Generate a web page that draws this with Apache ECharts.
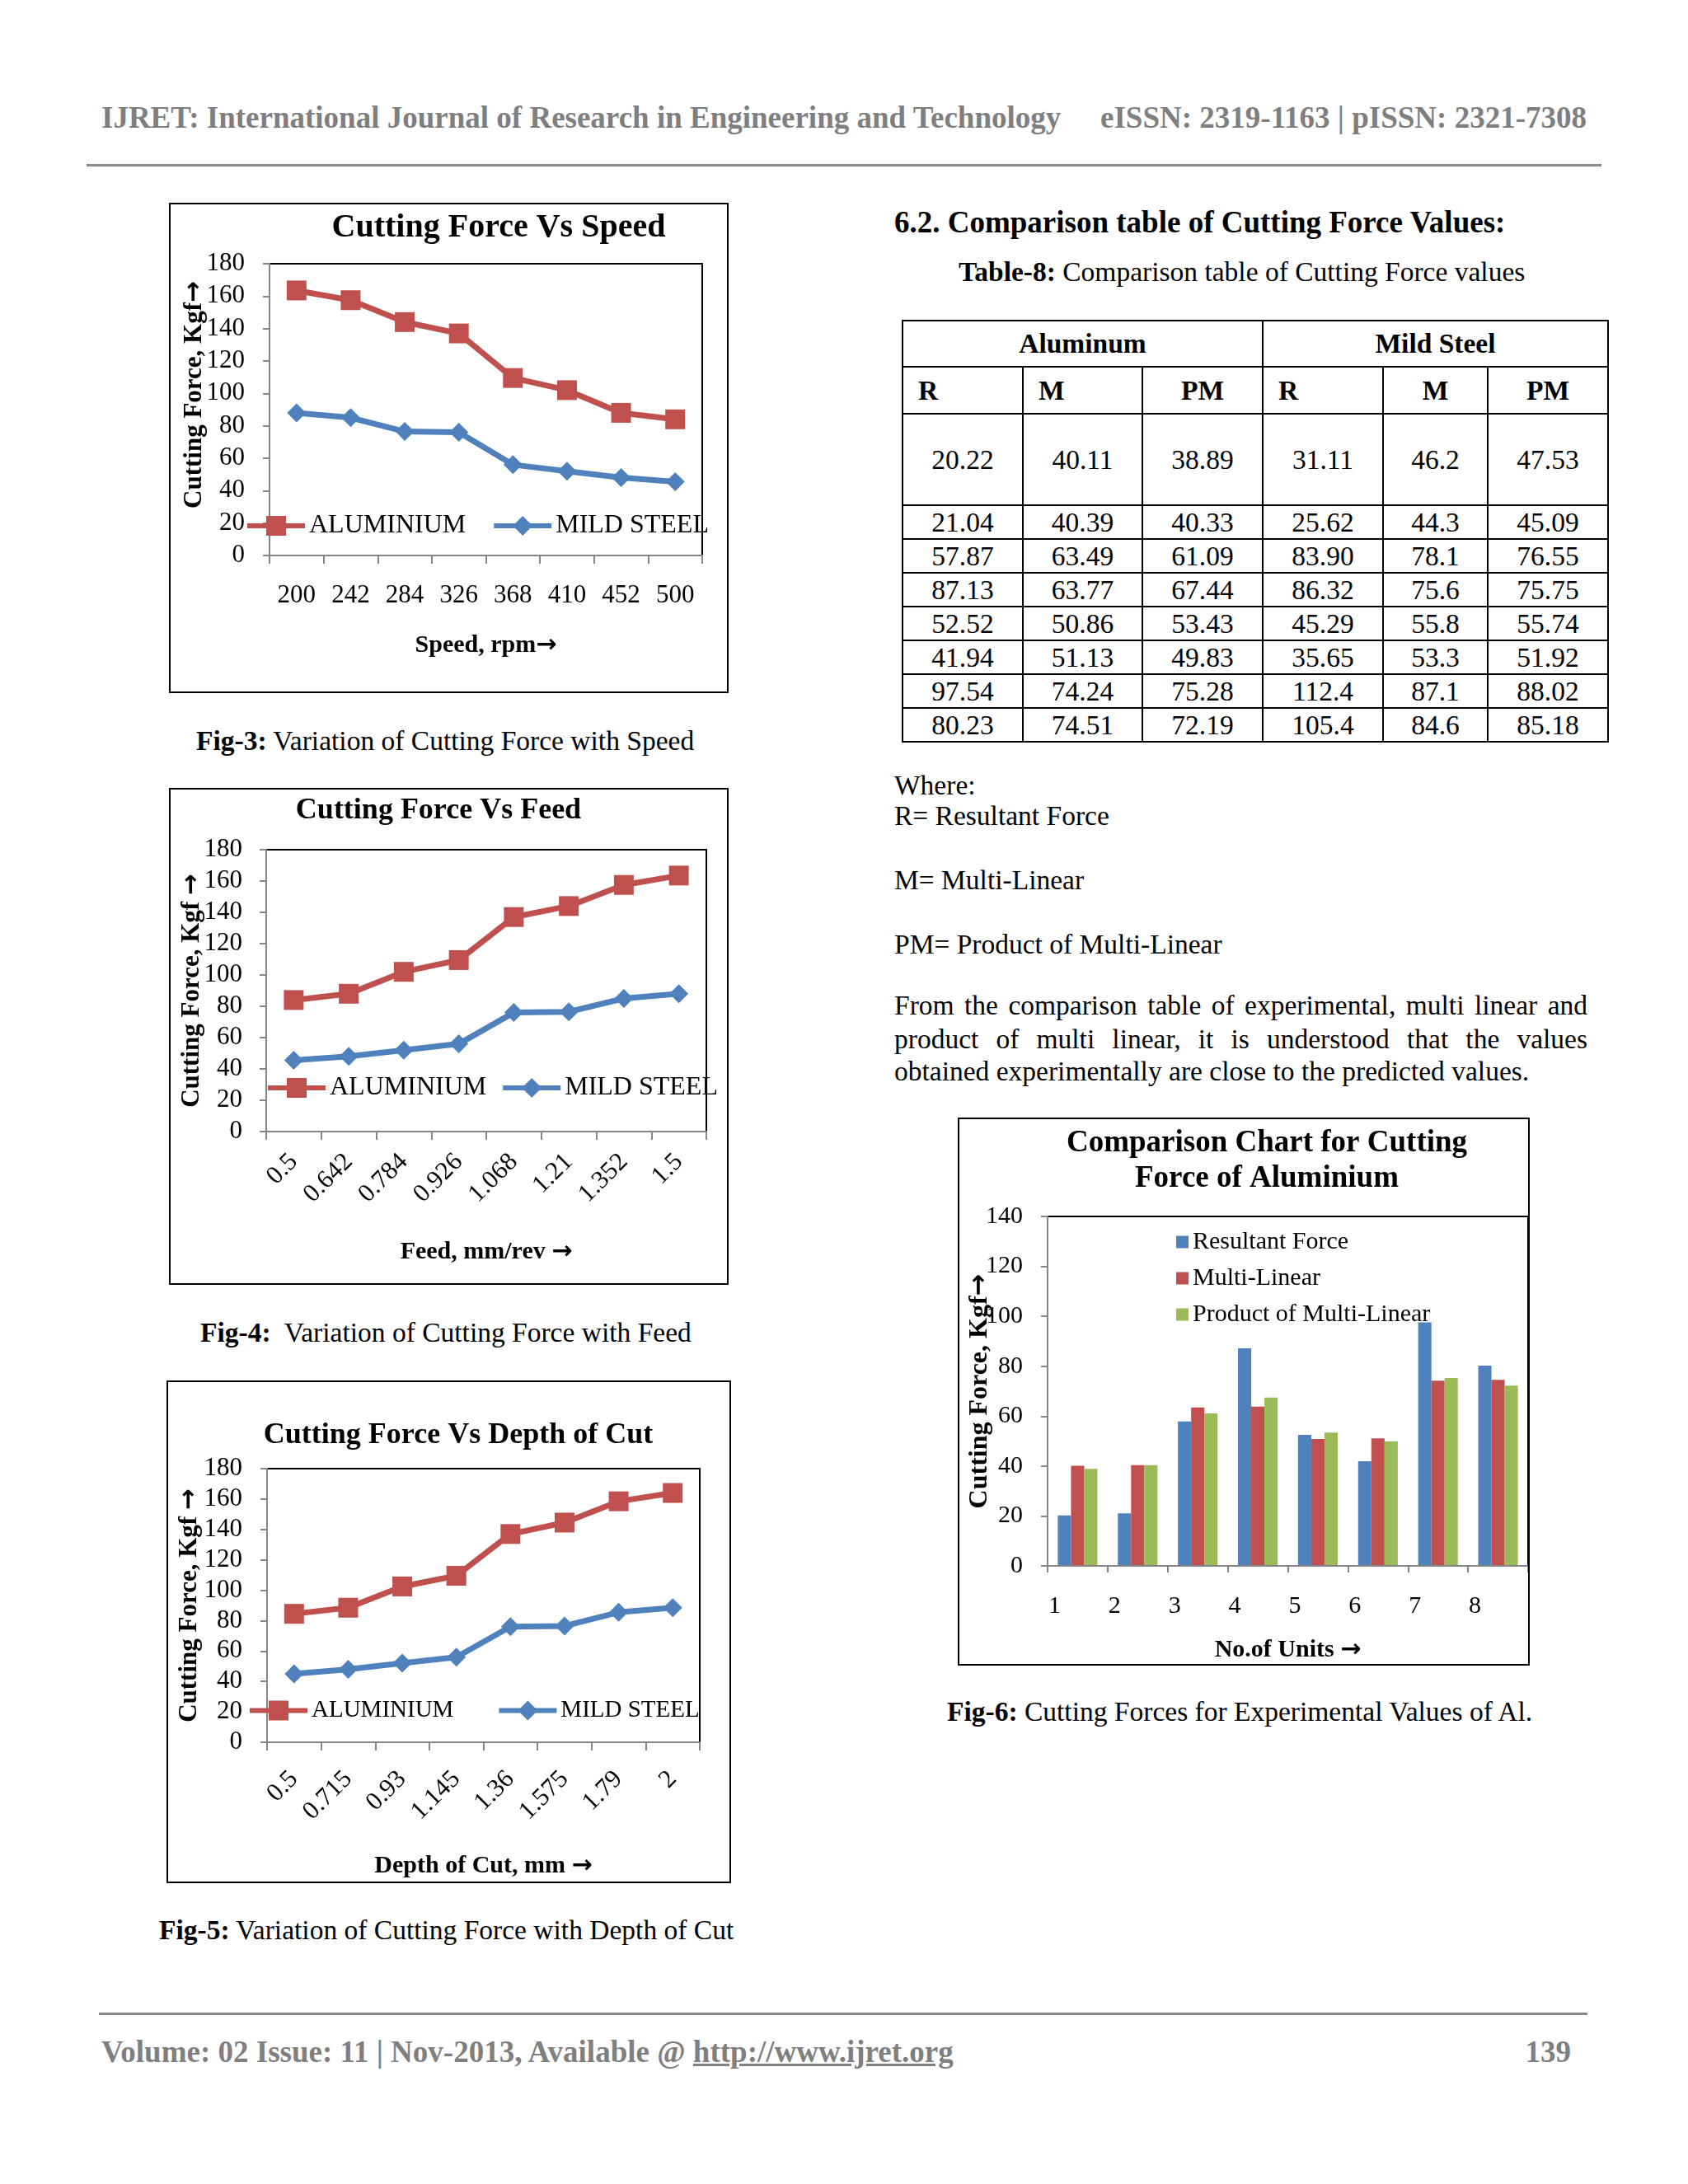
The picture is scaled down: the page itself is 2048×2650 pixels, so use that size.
<!DOCTYPE html>
<html>
<head>
<meta charset="utf-8">
<title>Cutting Force</title>
<script src="https://cdn.jsdelivr.net/npm/echarts@6.0.0/dist/echarts.min.js"></script>
<style>
  html, body { margin: 0; padding: 0; background: #fff; }
  #page { position: relative; width: 2048px; height: 2650px; overflow: hidden;
          font-family: 'Liberation Serif', 'Times New Roman', serif; color: #000; }
  .txt { position: absolute; white-space: nowrap; line-height: 1; }
  .gray { color: #7f7f7f; font-weight: bold; font-size: 37px; }
  .rule { position: absolute; background: #8a8a8a; height: 3px; }
  .frame { position: absolute; border: 2px solid #000; box-sizing: border-box; }
  .frame > div { position: absolute; left: 0; top: 0; right: 0; bottom: 0; }
  .body { font-size: 33.5px; }
  #tbl { position: absolute; left: 1094px; top: 388px; width: 856px; border-collapse: collapse;
         table-layout: fixed; font-size: 33.5px; }
  #tbl td { border: 2px solid #000; text-align: center; padding: 0; line-height: 1; }
  .just { position: absolute; left: 1085px; width: 841px; font-size: 33.5px; line-height: 1;
          text-align: justify; text-align-last: justify; }
</style>
</head>
<body>
<div id="page">
  <!-- header -->
  <div class="txt gray" style="left:123px;top:124px">IJRET: International Journal of Research in Engineering and Technology</div>
  <div class="txt gray" style="right:123px;top:124px">eISSN: 2319-1163 | pISSN: 2321-7308</div>
  <div class="rule" style="left:105px;top:199px;width:1838px"></div>

  <!-- left column charts -->
  <div class="frame" style="left:205px;top:246px;width:679px;height:595px"><div id="c1"></div></div>
  <div class="txt body" style="left:238px;top:882px"><b>Fig-3:</b> Variation of Cutting Force with Speed</div>

  <div class="frame" style="left:205px;top:956px;width:679px;height:603px"><div id="c2"></div></div>
  <div class="txt body" style="left:243px;top:1600px"><b>Fig-4:</b>&nbsp; Variation of Cutting Force with Feed</div>

  <div class="frame" style="left:202px;top:1675px;width:685px;height:610px"><div id="c3"></div></div>
  <div class="txt body" style="left:193px;top:2325px"><b>Fig-5:</b> Variation of Cutting Force with Depth of Cut</div>

  <!-- right column -->
  <div class="txt" style="left:1085px;top:251px;font-size:37px;font-weight:bold">6.2. Comparison table of Cutting Force Values:</div>
  <div class="txt body" style="left:1163px;top:313px"><b>Table-8:</b> Comparison table of Cutting Force values</div>
  <table id="tbl"></table>

  <div class="txt body" style="left:1085px;top:936px">Where:</div>
  <div class="txt body" style="left:1085px;top:973px">R= Resultant Force</div>
  <div class="txt body" style="left:1085px;top:1051px">M= Multi-Linear</div>
  <div class="txt body" style="left:1085px;top:1129px">PM= Product of Multi-Linear</div>
  <div class="just" style="top:1203px">From the comparison table of experimental, multi linear and</div>
  <div class="just" style="top:1244px">product of multi linear, it is understood that the values</div>
  <div class="txt body" style="left:1085px;top:1283px">obtained experimentally are close to the predicted values.</div>

  <div class="frame" style="left:1162px;top:1356px;width:694px;height:665px"><div id="c4"></div></div>
  <div class="txt body" style="left:1149px;top:2060px"><b>Fig-6:</b> Cutting Forces for Experimental Values of Al.</div>

  <!-- footer -->
  <div class="rule" style="left:120px;top:2442px;width:1806px"></div>
  <div class="txt gray" style="left:123px;top:2471px">Volume: 02 Issue: 11 | Nov-2013, Available @ <u>http://www.ijret.org</u></div>
  <div class="txt gray" style="right:142px;top:2471px">139</div>
</div>

<script>
// 数据
const speedLabels = ['200', '242', '284', '326', '368', '410', '452', '500']
const speedAl = [163.5, 157.5, 144, 137, 109.5, 102, 88, 84]
const speedMs = [88, 85, 76.5, 76, 56, 52, 48, 45.5]

const feedLabels = ['0.5', '0.642', '0.784', '0.926', '1.068', '1.21', '1.352', '1.5']
const feedAl = [84, 88, 102, 109.5, 137, 144, 157.5, 163.5]
const feedMs = [45.5, 48, 52, 56, 76, 76.5, 85, 88]

const depthLabels = ['0.5', '0.715', '0.93', '1.145', '1.36', '1.575', '1.79', '2']
const depthAl = [84.5, 88.5, 102.5, 109.5, 137, 144.5, 158.5, 164]
const depthMs = [45, 48, 52, 56, 76, 76.5, 85.5, 88.5]

const unitLabels = ['1', '2', '3', '4', '5', '6', '7', '8']
const alR = ['20.22', '21.04', '57.87', '87.13', '52.52', '41.94', '97.54', '80.23']
const alM = ['40.11', '40.39', '63.49', '63.77', '50.86', '51.13', '74.24', '74.51']
const alPM = ['38.89', '40.33', '61.09', '67.44', '53.43', '49.83', '75.28', '72.19']
const msR = ['31.11', '25.62', '83.90', '86.32', '45.29', '35.65', '112.4', '105.4']
const msM = ['46.2', '44.3', '78.1', '75.6', '55.8', '53.3', '87.1', '84.6']
const msPM = ['47.53', '45.09', '76.55', '75.75', '55.74', '51.92', '88.02', '85.18']

const forceMax = 180
const forceStep = 20
const barMax = 140

const SERIF = "'Liberation Serif', 'Times New Roman', serif"
const RED = '#C0504D'
const BLUE = '#4F81BD'
const GREEN = '#9BBB59'
const AXIS = '#868686'

// 表格
const colW = [146, 145, 146, 146, 127, 146]
let html = '<colgroup>' + colW.map(w => `<col style="width:${w}px">`).join('') + '</colgroup>'
html += '<tr style="height:56px"><td colspan="3"><b>Aluminum</b></td><td colspan="3"><b>Mild Steel</b></td></tr>'
html += '<tr style="height:57px">' +
  '<td style="text-align:left;padding-left:18px"><b>R</b></td>' +
  '<td style="text-align:left;padding-left:18px"><b>M</b></td>' +
  '<td><b>PM</b></td>' +
  '<td style="text-align:left;padding-left:18px"><b>R</b></td>' +
  '<td><b>M</b></td><td><b>PM</b></td></tr>'
alR.forEach((v, i) => {
  const h = i === 0 ? 111 : 41
  html += `<tr style="height:${h}px"><td>${v}</td><td>${alM[i]}</td><td>${alPM[i]}</td>` +
    `<td>${msR[i]}</td><td>${msM[i]}</td><td>${msPM[i]}</td></tr>`
})
document.getElementById('tbl').innerHTML = html

const txt = (size, bold) => ({
  fontFamily: SERIF, fontSize: size, color: '#000', fontWeight: bold ? 'bold' : 'normal'
})
// 轴名称，箭头用 DejaVu 字体显示得更大
const nameStyle = (size, padding) => Object.assign(txt(size, true), {
  padding: padding || 0,
  rich: { a: { fontFamily: 'DejaVu Sans', fontSize: size, fontWeight: 'bold', color: '#000' } }
})

// 折线图
function lineChart (id, o) {
  const chart = echarts.init(document.getElementById(id))
  chart.setOption({
    animation: false,
    graphic: [{
      type: 'text', x: o.titleX, y: o.titleY,
      style: {
        text: o.title, fontFamily: SERIF, fontSize: o.titleSize, fontWeight: 'bold',
        fill: '#000', align: 'center', verticalAlign: 'middle'
      }
    }],
    grid: Object.assign({
      show: true, borderColor: '#000', borderWidth: 2, outerBoundsMode: 'none'
    }, o.grid),
    legend: {
      data: ['ALUMINIUM', 'MILD STEEL'], left: o.legendLeft, top: o.legendTop, width: 640,
      padding: 0, itemWidth: 70, itemHeight: 30, itemGap: o.legendGap, selectedMode: false,
      lineStyle: { width: 6 },
      textStyle: txt(o.legendSize || 32)
    },
    xAxis: {
      type: 'category', data: o.labels, z: 3,
      axisLine: { lineStyle: { color: AXIS, width: 2 } },
      axisTick: { show: true, length: 10, interval: 0, lineStyle: { color: AXIS, width: 2 } },
      axisLabel: Object.assign({ interval: 0, rotate: o.rotate, margin: o.labelMargin }, txt(31)),
      name: o.xName, nameLocation: 'middle', nameGap: o.xNameGap, nameMoveOverlap: false,
      nameTextStyle: nameStyle(30)
    },
    yAxis: {
      type: 'value', min: 0, max: forceMax, interval: forceStep, z: 3,
      axisLine: { show: true, lineStyle: { color: AXIS, width: 2 } },
      axisTick: { show: true, length: 8, lineStyle: { color: AXIS, width: 2 } },
      splitLine: { show: false },
      axisLabel: Object.assign({ margin: o.yLabelMargin }, txt(31)),
      name: o.yName, nameLocation: 'middle', nameGap: o.yNameGap, nameMoveOverlap: false,
      nameTextStyle: nameStyle(31, o.yNamePad)
    },
    series: [
      {
        name: 'ALUMINIUM', type: 'line', data: o.al, symbol: 'rect', symbolSize: 24,
        lineStyle: { color: RED, width: 7 }, itemStyle: { color: RED }
      },
      {
        name: 'MILD STEEL', type: 'line', data: o.ms, symbol: 'diamond', symbolSize: 23,
        lineStyle: { color: BLUE, width: 7 }, itemStyle: { color: BLUE }
      }
    ]
  })
  return chart
}

lineChart('c1', {
  title: 'Cutting Force Vs Speed', titleX: 398, titleY: 29, titleSize: 40,
  grid: { left: 120, right: 30, top: 72, bottom: 165 },
  labels: speedLabels, al: speedAl, ms: speedMs,
  rotate: 0, labelMargin: 33,
  xName: 'Speed, rpm{a|→}', xNameGap: 94,
  yName: 'Cutting Force, Kgf{a|→}', yNameGap: 76, yLabelMargin: 30, yNamePad: [0, 0, 0, 36],
  legendLeft: 90, legendTop: 374, legendGap: 31
})

lineChart('c2', {
  title: 'Cutting Force Vs Feed', titleX: 325, titleY: 26, titleSize: 36,
  grid: { left: 116, right: 25, top: 73, bottom: 184 },
  labels: feedLabels, al: feedAl, ms: feedMs,
  rotate: 45, labelMargin: 32,
  xName: 'Feed, mm/rev {a|→}', xNameGap: 131,
  yName: 'Cutting Force, Kgf {a|→}', yNameGap: 75, yLabelMargin: 29,
  legendLeft: 115, legendTop: 346, legendGap: 17
})

lineChart('c3', {
  title: 'Cutting Force Vs Depth of Cut', titleX: 352, titleY: 65, titleSize: 36,
  grid: { left: 120, right: 36, top: 105, bottom: 169 },
  labels: depthLabels, al: depthAl, ms: depthMs,
  rotate: 45, labelMargin: 40,
  xName: 'Depth of Cut, mm {a|→}', xNameGap: 135,
  yName: 'Cutting Force, Kgf {a|→}', yNameGap: 79, yLabelMargin: 30,
  legendLeft: 96, legendTop: 384, legendGap: 52, legendSize: 29
})

// 柱状图
const bar = echarts.init(document.getElementById('c4'))
bar.setOption({
  animation: false,
  graphic: [{
    type: 'text', x: 373, y: 51,
    style: {
      text: 'Comparison Chart for Cutting\nForce of Aluminium', fontFamily: SERIF, fontSize: 37,
      fontWeight: 'bold', lineHeight: 43, fill: '#000', align: 'center', verticalAlign: 'middle'
    }
  }],
  grid: { left: 107, right: 0, top: 118, bottom: 119, show: true, borderColor: '#000', borderWidth: 2, outerBoundsMode: 'none' },
  legend: {
    orient: 'vertical', left: 263, top: 134, padding: 0, itemWidth: 15, itemHeight: 15, itemGap: 14,
    icon: 'rect', selectedMode: false, textStyle: txt(30)
  },
  xAxis: {
    type: 'category', data: unitLabels, z: 3,
    axisLine: { lineStyle: { color: AXIS, width: 2 } },
    axisTick: { show: true, length: 8, interval: 0, lineStyle: { color: AXIS, width: 2 } },
    axisLabel: Object.assign({ interval: 0, margin: 34, padding: [0, 56, 0, 0] }, txt(30)),
    name: 'No.of Units {a|→}', nameLocation: 'middle', nameGap: 87, nameMoveOverlap: false,
    nameTextStyle: nameStyle(30)
  },
  yAxis: {
    type: 'value', min: 0, max: barMax, interval: forceStep, z: 3,
    axisLine: { show: true, lineStyle: { color: AXIS, width: 2 } },
    axisTick: { show: true, length: 8, lineStyle: { color: AXIS, width: 2 } },
    splitLine: { show: false },
    axisLabel: Object.assign({ margin: 30 }, txt(30)),
    name: 'Cutting Force, Kgf{a|→}', nameLocation: 'middle', nameGap: 66, nameMoveOverlap: false,
    nameTextStyle: nameStyle(32)
  },
  series: [
    { name: 'Resultant Force', type: 'bar', data: alR.map(Number), itemStyle: { color: BLUE }, barGap: '0%', barCategoryGap: '34%' },
    { name: 'Multi-Linear', type: 'bar', data: alM.map(Number), itemStyle: { color: RED } },
    { name: 'Product of Multi-Linear', type: 'bar', data: alPM.map(Number), itemStyle: { color: GREEN } }
  ]
})
</script>
</body>
</html>
